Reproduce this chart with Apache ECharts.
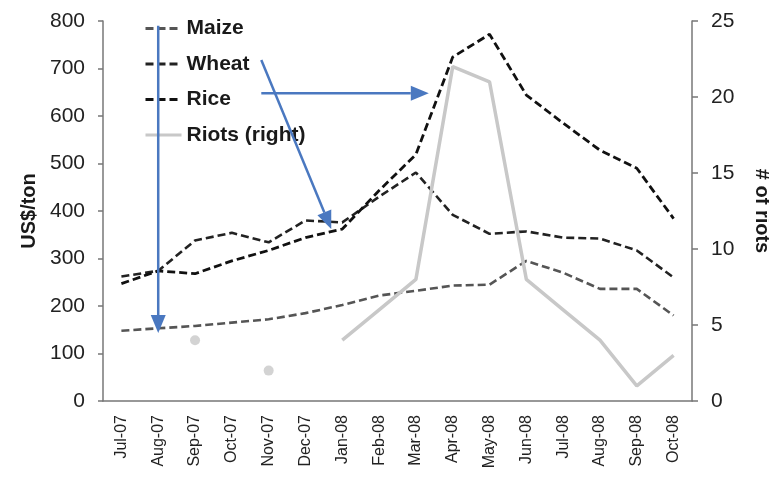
<!DOCTYPE html>
<html>
<head>
<meta charset="utf-8">
<script src="https://cdn.jsdelivr.net/npm/echarts@6/dist/echarts.min.js"></script>
<style>
  html, body { margin: 0; padding: 0; background: #fff; }
  #chart { width: 769px; height: 481px; }
</style>
</head>
<body>
<div id="chart"></div>
<script>
// Monthly food prices (US$/ton) and number of food riots, Jul-07 to Oct-08
const months = ['Jul-07','Aug-07','Sep-07','Oct-07','Nov-07','Dec-07','Jan-08','Feb-08',
                'Mar-08','Apr-08','May-08','Jun-08','Jul-08','Aug-08','Sep-08','Oct-08'];
const maize = [148, 153, 158, 165, 172, 185, 202, 222, 232, 243, 245, 295, 270, 236, 236, 180];
const wheat = [262, 274, 338, 354, 334, 380, 376, 430, 481, 392, 352, 357, 344, 342, 317, 260];
const rice  = [247, 274, 268, 295, 317, 344, 362, 443, 519, 724, 772, 644, 585, 528, 490, 384];
const riots = [null, null, 4, null, 2, null, 4, 6, 8, 22, 21, 8, 6, 4, 1, 3];

const leftTicks = { min: 0, max: 800, interval: 100 };
const rightTicks = { min: 0, max: 25, interval: 5 };

// months with a riot count but no neighbouring count are drawn as single dots
const isolatedRiots = riots.map((v, i) => {
  const prev = i > 0 ? riots[i - 1] : null;
  const next = i < riots.length - 1 ? riots[i + 1] : null;
  return (v != null && prev == null && next == null) ? v : null;
});

const FONT = 'Liberation Sans, Arial, sans-serif';
const dash = [8, 4];

const chart = echarts.init(document.getElementById('chart'));

const option = {
  animation: false,
  grid: { left: 103, right: 77, top: 21, bottom: 80, outerBoundsMode: 'none', containLabel: false },
  legend: {
    data: ['Maize', 'Wheat', 'Rice', 'Riots (right)'],
    orient: 'vertical',
    left: 139,
    top: 13,
    itemWidth: 36,
    itemHeight: 20,
    itemGap: 14.5,
    itemStyle: { opacity: 0 },
    lineStyle: { width: 3 },
    textStyle: { fontFamily: FONT, fontSize: 21, fontWeight: 'bold', color: '#1a1a1a' }
  },
  xAxis: {
    type: 'category',
    data: months,
    boundaryGap: true,
    axisLine: { lineStyle: { color: '#777', width: 1.5 } },
    axisTick: { length: 5, lineStyle: { color: '#777', width: 1.5 } },
    axisLabel: { rotate: 90, fontFamily: FONT, fontSize: 16, color: '#222', margin: 14 }
  },
  yAxis: [
    {
      type: 'value',
      min: leftTicks.min, max: leftTicks.max, interval: leftTicks.interval,
      name: 'US$/ton',
      nameLocation: 'middle',
      nameRotate: 90,
      nameGap: 61,
      nameTextStyle: { fontFamily: FONT, fontSize: 20, fontWeight: 'bold', color: '#1a1a1a' },
      axisLine: { show: true, lineStyle: { color: '#777', width: 1.5 } },
      axisTick: { show: true, length: 5, lineStyle: { color: '#777', width: 1.5 } },
      axisLabel: { fontFamily: FONT, fontSize: 21, color: '#222', margin: 18 },
      splitLine: { show: false }
    },
    {
      type: 'value',
      position: 'right',
      min: rightTicks.min, max: rightTicks.max, interval: rightTicks.interval,
      name: '# of riots',
      nameLocation: 'middle',
      nameRotate: -90,
      nameGap: 60,
      nameTextStyle: { fontFamily: FONT, fontSize: 20, fontWeight: 'bold', color: '#1a1a1a' },
      axisLine: { show: true, lineStyle: { color: '#777', width: 1.5 } },
      axisTick: { show: true, length: 6, lineStyle: { color: '#777', width: 1.5 } },
      axisLabel: { fontFamily: FONT, fontSize: 21, color: '#222', margin: 19 },
      splitLine: { show: false }
    }
  ],
  series: [
    {
      name: 'Maize', type: 'line', data: maize, symbol: 'none', yAxisIndex: 0,
      itemStyle: { color: '#555' },
      lineStyle: { color: '#555', width: 2.6, type: dash }
    },
    {
      name: 'Wheat', type: 'line', data: wheat, symbol: 'none', yAxisIndex: 0,
      itemStyle: { color: '#222' },
      lineStyle: { color: '#222', width: 2.6, type: dash }
    },
    {
      name: 'Rice', type: 'line', data: rice, symbol: 'none', yAxisIndex: 0,
      itemStyle: { color: '#111' },
      lineStyle: { color: '#111', width: 2.8, type: dash }
    },
    {
      name: 'Riots (right)', type: 'line', data: riots, symbol: 'none', yAxisIndex: 1,
      connectNulls: false,
      itemStyle: { color: '#c8c8c8' },
      lineStyle: { color: '#c8c8c8', width: 3.5 }
    },
    {
      name: 'Riots (isolated)', type: 'scatter', data: isolatedRiots, yAxisIndex: 1,
      symbol: 'circle', symbolSize: 10,
      itemStyle: { color: '#c8c8c8' }
    }
  ]
};

chart.setOption(option);

// Annotation arrows, placed in data space (fractional month index, US$/ton)
function toPx(idx, val) {
  const lo = Math.floor(idx), hi = Math.min(lo + 1, months.length - 1);
  const a = chart.convertToPixel({ xAxisIndex: 0, yAxisIndex: 0 }, [months[lo], val]);
  const b = chart.convertToPixel({ xAxisIndex: 0, yAxisIndex: 0 }, [months[hi], val]);
  const t = idx - lo;
  return [a[0] + (b[0] - a[0]) * t, a[1]];
}

function arrow(from, to) {
  const p0 = toPx(from[0], from[1]);
  const p1 = toPx(to[0], to[1]);
  const dx = p1[0] - p0[0], dy = p1[1] - p0[1];
  const len = Math.sqrt(dx * dx + dy * dy);
  const ux = dx / len, uy = dy / len;
  const headLen = 18, headHalf = 7.5;
  const bx = p1[0] - ux * headLen, by = p1[1] - uy * headLen;
  const color = '#4a78c0';
  return [
    {
      type: 'line', silent: true, z: 100,
      shape: { x1: p0[0], y1: p0[1], x2: bx, y2: by },
      style: { stroke: color, lineWidth: 2.5 }
    },
    {
      type: 'polygon', silent: true, z: 100,
      shape: { points: [[p1[0], p1[1]],
                        [bx - uy * headHalf, by + ux * headHalf],
                        [bx + uy * headHalf, by - ux * headHalf]] },
      style: { fill: color }
    }
  ];
}

const arrows = [].concat(
  arrow([1, 790], [1, 143]),
  arrow([3.8, 718], [5.7, 362]),
  arrow([3.8, 648], [8.35, 648])
);

chart.setOption({ graphic: arrows });
</script>
</body>
</html>
